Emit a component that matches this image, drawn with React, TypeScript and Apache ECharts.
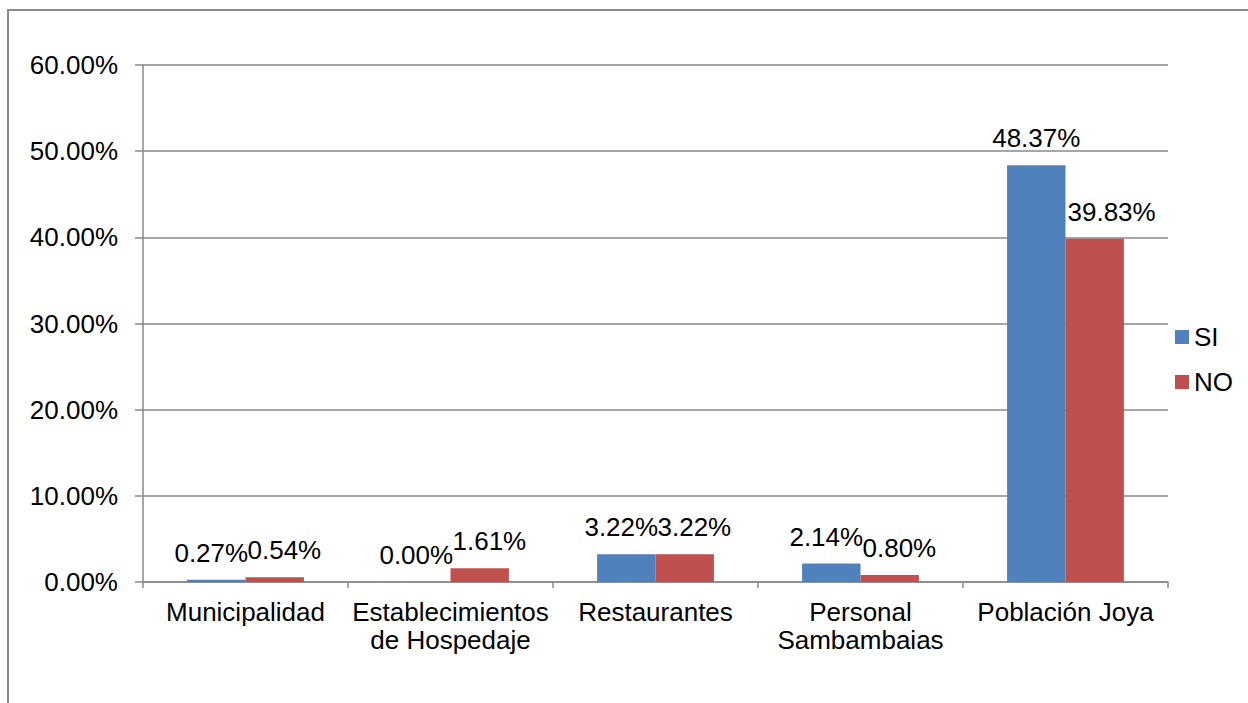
import React, { useEffect, useRef } from "react";
import * as echarts from "echarts";

const categories = [
  "Municipalidad",
  "Establecimientos\nde Hospedaje",
  "Restaurantes",
  "Personal\nSambambaias",
  "Población Joya",
];
const siValues = [0.27, 0.0, 3.22, 2.14, 48.37];
const noValues = [0.54, 1.61, 3.22, 0.8, 39.83];
const seriesNames = ["SI", "NO"];

const FONT = "'Liberation Sans', Arial, sans-serif";
const pct = (v: number) => v.toFixed(2) + "%";

export default function App() {
  const ref = useRef<HTMLDivElement>(null);
  useEffect(() => {
    if (!ref.current) return;
    const chart = echarts.init(ref.current, undefined, { renderer: "svg" });
    const baseLabel = {
      show: true,
      color: "#000",
      fontSize: 26,
      fontFamily: FONT,
      formatter: (p: any) => pct(p.value),
    };
    // SI labels: centered above bars, nudged left where the NO label abuts
    const siData = siValues.map((v, i) => ({
      value: v,
      label: { offset: [i < siValues.length - 1 ? -5 : 0, 0] },
    }));
    chart.setOption({
      animation: false,
      backgroundColor: "#fff",
      textStyle: { fontFamily: FONT },
      graphic: [
        {
          type: "rect",
          shape: { x: 8, y: 10, width: 1400, height: 900 },
          style: { fill: "none", stroke: "#8c8c8c", lineWidth: 2 },
          silent: true,
        },
      ],
      grid: { left: 143, right: 80, top: 65, bottom: 121 },
      legend: {
        orient: "vertical",
        left: 1175,
        top: 324,
        padding: 0,
        itemWidth: 14,
        itemHeight: 14,
        itemGap: 19,
        icon: "rect",
        textStyle: { fontSize: 26, color: "#000", fontFamily: FONT },
        data: seriesNames,
      },
      xAxis: {
        type: "category",
        data: categories,
        axisLine: { lineStyle: { color: "#888", width: 1.5 } },
        axisTick: { show: true, length: 6, lineStyle: { color: "#888", width: 1.5 } },
        axisLabel: {
          interval: 0,
          fontSize: 26,
          lineHeight: 28,
          color: "#000",
          fontFamily: FONT,
          margin: 16,
        },
      },
      yAxis: {
        type: "value",
        min: 0,
        max: 60,
        interval: 10,
        axisLine: { show: true, lineStyle: { color: "#888", width: 1.5 } },
        axisTick: { show: true, length: 8, lineStyle: { color: "#888", width: 1.5 } },
        splitLine: { lineStyle: { color: "#888", width: 1.5 } },
        axisLabel: {
          fontSize: 26,
          color: "#000",
          fontFamily: FONT,
          margin: 25,
          formatter: (v: number) => pct(v),
        },
      },
      series: [
        {
          name: seriesNames[0],
          type: "bar",
          data: siData,
          itemStyle: { color: "#4F81BD" },
          barGap: "0%",
          barCategoryGap: "43%",
          label: { ...baseLabel, position: "top", distance: 14 },
        },
        {
          name: seriesNames[1],
          type: "bar",
          data: noValues,
          itemStyle: { color: "#C0504D" },
          barGap: "0%",
          barCategoryGap: "43%",
          label: {
            ...baseLabel,
            position: [2, -14],
            align: "left",
            verticalAlign: "bottom",
          },
        },
      ],
    });
    return () => chart.dispose();
  }, []);
  return (
    <div
      ref={ref}
      style={{ position: "fixed", left: 0, top: 0, width: 1248, height: 703 }}
    />
  );
}
